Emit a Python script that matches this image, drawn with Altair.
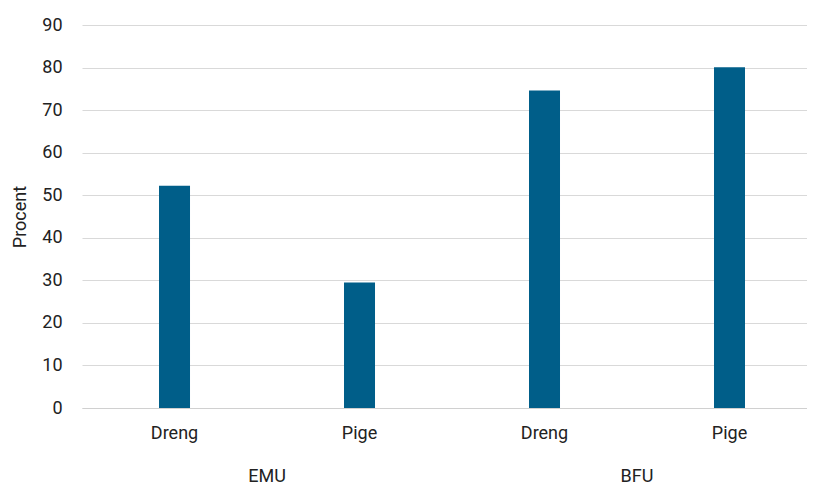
import altair as alt
import pandas as pd

groups = ["EMU", "EMU", "BFU", "BFU"]
genders = ["Dreng", "Pige", "Dreng", "Pige"]
values = [52.2, 29.5, 74.6, 80.1]
y_ticks = [0, 10, 20, 30, 40, 50, 60, 70, 80, 90]

keys = [f"{g}|{s}" for g, s in zip(groups, genders)]
df = pd.DataFrame({"key": keys, "group": groups, "gender": genders, "value": values})

grp_df = pd.DataFrame({"key": ["EMU|Dreng", "BFU|Dreng"], "label": ["EMU", "BFU"]})

FONT = "Roboto"
FS = 18
W, H = 725, 383
COLOR = "#005E89"
TXT = "#222222"

x_scale = alt.Scale(domain=keys, paddingInner=0.8324, paddingOuter=0.3757, align=0.554)

bars = alt.Chart(df).mark_bar(color=COLOR).encode(
    x=alt.X("key:N", scale=x_scale, sort=keys,
            axis=alt.Axis(title=None, labelExpr="split(datum.value, '|')[1]",
                          labelAngle=0, ticks=False, domain=True, domainColor="#d0d0d0",
                          labelPadding=16, labelFontSize=FS, labelFont=FONT,
                          labelColor=TXT, grid=False)),
    y=alt.Y("value:Q", scale=alt.Scale(domain=[0, 90], nice=False),
            axis=alt.Axis(title="Procent", values=y_ticks, ticks=False, domain=False,
                          gridColor="#d9d9d9", labelPadding=20, labelFontSize=FS,
                          labelFont=FONT, labelColor=TXT, titleFont=FONT,
                          titleFontSize=FS, titleFontWeight="normal", titleColor=TXT,
                          titlePadding=12)),
)

grp = alt.Chart(grp_df).mark_text(font=FONT, fontSize=FS, color=TXT, baseline="middle",
                                  dx=92.5).encode(
    x=alt.X("key:N", scale=x_scale, sort=keys),
    y=alt.value(H + 69),
    text="label:N",
)

chart = alt.layer(bars, grp).properties(
    width=W, height=H,
    autosize=alt.AutoSizeParams(type="none"),
    padding={"left": 74, "top": 17, "right": 0, "bottom": 79},
).configure_view(stroke=None).configure_axis(gridWidth=1)

chart.save("out.html", embed_options={"renderer": "svg", "actions": False})
